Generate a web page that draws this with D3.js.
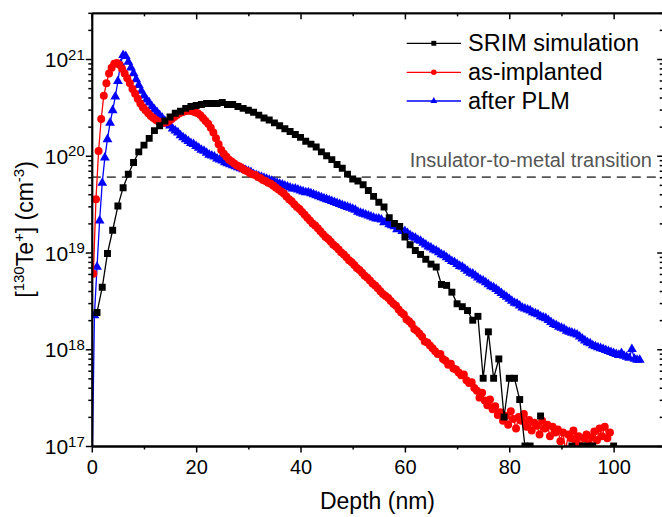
<!DOCTYPE html>
<html>
<head>
<meta charset="utf-8">
<script src="https://cdn.jsdelivr.net/npm/d3@7"></script>
<style>
  body { margin: 0; background: #fff; }
  svg { font-family: "Liberation Sans", Arial, sans-serif; }
</style>
</head>
<body>
<svg width="662" height="517"></svg>
<script>
// ---- Dados: log10 da concentracao (cm^-3) em funcao da profundidade (nm)
const seriesNames = ['SRIM simulation', 'as-implanted', 'after PLM'];
const seriesColors = ['#000000', '#ff0000', '#0000ff'];

// SRIM: 1 nm .. 100 nm, passo 1 nm (null = zero, fora da escala log)
const srimStart = 1, srimStep = 1;
const srimLog10 = [
  18.38, 18.64, 18.99, 19.23, 19.48, 19.67, 19.81, 19.93, 20.04, 20.11,
  20.18, 20.26, 20.31, 20.36, 20.40, 20.44, 20.46, 20.49, 20.51, 20.52,
  20.53, 20.54, 20.54, 20.54, 20.55, 20.53, 20.53, 20.51, 20.49, 20.47,
  20.45, 20.42, 20.39, 20.37, 20.34, 20.31, 20.28, 20.25, 20.22, 20.19,
  20.15, 20.12, 20.09, 20.04, 20.00, 19.96, 19.91, 19.87, 19.81, 19.76,
  19.74, 19.70, 19.64, 19.58, 19.52, 19.47, 19.36, 19.30, 19.27, 19.16,
  19.08, 19.02, 18.98, 18.93, 18.88, 18.85, 18.67, 18.66, 18.59, 18.47,
  18.44, 18.40, 18.30, 18.34, 17.70, 18.18, 17.70, 17.90, 17.30, 17.70,
  17.70, 17.48, 17.00, 17.00, null, 17.31, null, null, null, null,
  null, 17.00, null, 17.00, 17.00, 17.00, null, null, null, 17.00
];

// as-implanted: 0.3 nm .. 99.3 nm, passo 0.5 nm
const asImplStart = 0.3, asImplStep = 0.5;
const asImplLog10 = [
  18.78, 19.55, 20.05, 20.38, 20.62, 20.75, 20.85, 20.91, 20.95, 20.96,
  20.94, 20.90, 20.85, 20.80, 20.75, 20.69, 20.64, 20.59, 20.54, 20.50,
  20.47, 20.44, 20.41, 20.39, 20.37, 20.355, 20.345, 20.34, 20.345, 20.36,
  20.38, 20.40, 20.42, 20.44, 20.45, 20.46, 20.465, 20.465, 20.46, 20.45,
  20.44, 20.42, 20.39, 20.36, 20.33, 20.29, 20.24, 20.18, 20.12, 20.06,
  20.02, 19.99, 19.96, 19.94, 19.92, 19.90, 19.89, 19.87, 19.85, 19.84,
  19.82, 19.81, 19.80, 19.78, 19.77, 19.75, 19.74, 19.72, 19.71, 19.69,
  19.67, 19.65, 19.63, 19.61, 19.58, 19.55, 19.53, 19.50, 19.47, 19.45,
  19.42, 19.39, 19.36, 19.33, 19.30, 19.28, 19.25, 19.22, 19.19, 19.16,
  19.14, 19.11, 19.08, 19.06, 19.03, 19.00, 18.98, 18.95, 18.92, 18.90,
  18.87, 18.84, 18.82, 18.79, 18.76, 18.74, 18.71, 18.68, 18.66, 18.63,
  18.60, 18.57, 18.55, 18.53, 18.50, 18.47, 18.45, 18.41, 18.38, 18.36,
  18.31, 18.29, 18.26, 18.21, 18.19, 18.16, 18.13, 18.08, 18.07, 18.04,
  18.01, 17.98, 17.95, 17.95, 17.90, 17.88, 17.84, 17.85, 17.80, 17.79,
  17.76, 17.73, 17.74, 17.68, 17.65, 17.66, 17.60, 17.57, 17.50, 17.55,
  17.47, 17.42, 17.48, 17.38, 17.41, 17.32, 17.35, 17.26, 17.31, 17.22,
  17.36, 17.28, 17.18, 17.30, 17.26, 17.33, 17.20, 17.27, 17.16, 17.24,
  17.21, 17.12, 17.26, 17.18, 17.22, 17.10, 17.20, 17.14, 17.17, 17.05,
  17.14, 16.95, 17.12, 17.08, 17.16, 17.03, 17.10, 17.00, 17.08, 17.12,
  17.02, 17.09, 17.15, 17.06, 17.18, 17.10, 17.20, 17.08, 17.14
];

// after PLM: 0 nm .. 105 nm, passo 0.5 nm
const plmStart = 0, plmStep = 0.5;
const plmLog10 = [
  16.50, 18.35, 18.85, 19.33, 19.72, 19.98, 20.17, 20.34, 20.47, 20.61,
  20.77, 20.95, 21.04, 21.03, 20.97, 20.91, 20.85, 20.79, 20.73, 20.67,
  20.62, 20.58, 20.55, 20.51, 20.48, 20.45, 20.42, 20.39, 20.36, 20.33,
  20.31, 20.28, 20.26, 20.24, 20.21, 20.19, 20.17, 20.15, 20.13, 20.12,
  20.10, 20.08, 20.06, 20.05, 20.03, 20.01, 20.00, 19.99, 19.97, 19.96,
  19.95, 19.93, 19.92, 19.91, 19.90, 19.89, 19.88, 19.87, 19.86, 19.85,
  19.84, 19.83, 19.81, 19.80, 19.79, 19.78, 19.77, 19.76, 19.75, 19.74,
  19.73, 19.72, 19.71, 19.70, 19.69, 19.68, 19.67, 19.66, 19.66, 19.65,
  19.64, 19.63, 19.62, 19.62, 19.61, 19.60, 19.59, 19.58, 19.57, 19.56,
  19.55, 19.54, 19.53, 19.52, 19.51, 19.50, 19.49, 19.48, 19.47, 19.46,
  19.45, 19.44, 19.42, 19.41, 19.40, 19.39, 19.38, 19.37, 19.36, 19.35,
  19.35, 19.34, 19.31, 19.32, 19.29, 19.28, 19.27, 19.24, 19.25, 19.22,
  19.22, 19.20, 19.18, 19.16, 19.15, 19.13, 19.12, 19.10, 19.08, 19.06,
  19.05, 19.03, 19.02, 19.00, 18.98, 18.97, 18.95, 18.93, 18.91, 18.90,
  18.88, 18.86, 18.85, 18.83, 18.81, 18.79, 18.78, 18.76, 18.74, 18.72,
  18.71, 18.69, 18.67, 18.65, 18.64, 18.62, 18.60, 18.58, 18.56, 18.54,
  18.52, 18.50, 18.48, 18.47, 18.45, 18.43, 18.42, 18.41, 18.40, 18.38,
  18.37, 18.36, 18.34, 18.33, 18.32, 18.30, 18.28, 18.26, 18.25, 18.23,
  18.22, 18.21, 18.19, 18.18, 18.17, 18.16, 18.15, 18.13, 18.11, 18.09,
  18.07, 18.06, 18.04, 18.03, 18.02, 18.01, 18.00, 17.99, 17.98, 17.97,
  17.96, 17.95, 17.94, 17.96, 17.93, 17.92, 17.91, 18.00, 17.90, 17.89, 17.89
];

// ---- Eixos / rotulos
const xDomain = [0, 109.5];
const yDomain = [1e17, 3e21];
const xTicks = [0, 20, 40, 60, 80, 100];
const xMinorTicks = [10, 30, 50, 70, 90];
const yTicks = [1e17, 1e18, 1e19, 1e20, 1e21];
const imtLevel = 6e19;
const imtLabel = 'Insulator-to-metal transition';

const margens = { left: 91.8, right: 662 - 663.2, top: 12.85, bottom: 517 - 446 };

const svg = d3.select('svg');
const W = 662, H = 517;
const innerW = W - margens.left - margens.right;
const innerH = H - margens.top - margens.bottom;

// ---- Escalas
const mapX = d3.scaleLinear().domain(xDomain).range([0, innerW]);
const mapY = d3.scaleLog().domain(yDomain).range([innerH, 0]);

const toPoints = (start, step, arr) => arr.map((v, i) => ({ d: start + i * step, v: v === null ? null : Math.pow(10, v) }));
const series = [
  toPoints(srimStart, srimStep, srimLog10),
  toPoints(asImplStart, asImplStep, asImplLog10),
  toPoints(plmStart, plmStep, plmLog10)
];
const symbols = [d3.symbolSquare, d3.symbolCircle, d3.symbolTriangle];
const symbolSizes = [48, 50, 42];
const legendSizes = [24, 24, 20];

const plot = svg.append('g')
  .attr('transform', `translate(${margens.left}, ${margens.top})`);

svg.append('defs').append('clipPath').attr('id', 'clip')
  .append('rect').attr('x', 0).attr('y', 0).attr('width', innerW).attr('height', innerH);

// ---- Linha de transicao isolante-metal
plot.append('line')
  .attr('x1', 0).attr('x2', innerW)
  .attr('y1', mapY(imtLevel)).attr('y2', mapY(imtLevel))
  .attr('stroke', '#555').attr('stroke-width', 1.8)
  .attr('stroke-dasharray', '9,6');

plot.append('text')
  .attr('x', 652 - margens.left)
  .attr('y', mapY(imtLevel) - 10)
  .attr('text-anchor', 'end')
  .attr('font-size', 20)
  .attr('fill', '#555')
  .text(imtLabel);

// ---- Series (desenhadas de tras para frente)
const dataG = plot.append('g').attr('clip-path', 'url(#clip)');
const line = d3.line()
  .defined(p => p.v !== null)
  .x(p => mapX(p.d))
  .y(p => mapY(p.v));

[2, 1, 0].forEach(k => {
  const g = dataG.append('g');
  g.append('path')
    .datum(series[k])
    .attr('fill', 'none')
    .attr('stroke', seriesColors[k])
    .attr('stroke-width', 1.3)
    .attr('d', line);

  g.selectAll('path.mk')
    .data(series[k].filter(p => p.v !== null))
    .join('path')
    .attr('class', 'mk')
    .attr('transform', p => `translate(${mapX(p.d)}, ${mapY(p.v)})`)
    .attr('fill', seriesColors[k])
    .attr('d', d3.symbol(symbols[k], symbolSizes[k]));
});

// ---- Eixos
function styleAxis(g) {
  g.select('.domain').attr('stroke-width', 1.8);
  g.selectAll('.tick line').attr('stroke-width', 1.5);
}

// inferior (ticks para fora)
plot.append('g')
  .attr('transform', `translate(0, ${innerH})`)
  .call(d3.axisBottom(mapX).tickValues(xMinorTicks).tickSize(3.5).tickSizeOuter(0).tickFormat(''))
  .call(styleAxis);
const axisX = plot.append('g')
  .attr('transform', `translate(0, ${innerH})`)
  .call(d3.axisBottom(mapX).tickValues(xTicks).tickSize(6.5).tickPadding(7.5).tickSizeOuter(0))
  .call(styleAxis);
axisX.selectAll('text').attr('font-size', 20).attr('fill', '#000');

// superior (ticks para dentro)
plot.append('g')
  .call(d3.axisTop(mapX).tickValues(xMinorTicks).tickSize(-3.5).tickSizeOuter(0).tickFormat(''))
  .call(styleAxis);
plot.append('g')
  .call(d3.axisTop(mapX).tickValues(xTicks).tickSize(-6.5).tickSizeOuter(0).tickFormat(''))
  .call(styleAxis);

// menores do eixo log
const yMinor = [];
[17, 18, 19, 20, 21].forEach(e => {
  for (let m = 2; m <= 9; m++) {
    const v = m * Math.pow(10, e);
    if (v <= yDomain[1]) yMinor.push(v);
  }
});

// esquerdo (ticks para fora)
plot.append('g')
  .call(d3.axisLeft(mapY).tickValues(yMinor).tickSize(3.5).tickSizeOuter(0).tickFormat(''))
  .call(styleAxis);
const axisY = plot.append('g')
  .call(d3.axisLeft(mapY).tickValues(yTicks).tickSize(6).tickPadding(1).tickSizeOuter(0))
  .call(styleAxis);
axisY.selectAll('text')
  .attr('font-size', 21)
  .attr('fill', '#000')
  .attr('dy', '0.36em')
  .each(function (v) {
    const t = d3.select(this);
    t.text('10');
    t.append('tspan').attr('font-size', 15).attr('dy', -7.5).text(Math.round(Math.log10(v)));
  });

// direito (ticks para dentro)
plot.append('g')
  .attr('transform', `translate(${innerW}, 0)`)
  .call(d3.axisRight(mapY).tickValues(yMinor).tickSize(-3.5).tickSizeOuter(0).tickFormat(''))
  .call(styleAxis);
plot.append('g')
  .attr('transform', `translate(${innerW}, 0)`)
  .call(d3.axisRight(mapY).tickValues(yTicks).tickSize(-6).tickSizeOuter(0).tickFormat(''))
  .call(styleAxis);

// ---- Titulos dos eixos
svg.append('text')
  .attr('x', margens.left + innerW / 2)
  .attr('y', 509)
  .attr('text-anchor', 'middle')
  .attr('font-size', 23)
  .text('Depth (nm)');

const yTitle = svg.append('text')
  .attr('transform', `translate(33, ${margens.top + innerH / 2}) rotate(-90)`)
  .attr('text-anchor', 'middle')
  .attr('font-size', 23);
yTitle.append('tspan').text('[');
yTitle.append('tspan').attr('font-size', 15).attr('dy', -9).text('130');
yTitle.append('tspan').attr('dy', 9).text('Te');
yTitle.append('tspan').attr('font-size', 15).attr('dy', -9).text('+');
yTitle.append('tspan').attr('dy', 9).text('] (cm');
yTitle.append('tspan').attr('font-size', 15).attr('dy', -9).text('-3');
yTitle.append('tspan').attr('dy', 9).text(')');

// ---- Legenda
const legend = svg.append('g');
const legendRows = [43.3, 72.3, 101];
seriesNames.forEach((name, k) => {
  const row = legend.append('g').attr('transform', `translate(0, ${legendRows[k]})`);
  row.append('line')
    .attr('x1', 406.7).attr('x2', 461)
    .attr('stroke', seriesColors[k]).attr('stroke-width', 1.3);
  row.append('path')
    .attr('transform', 'translate(433.8, 0)')
    .attr('fill', seriesColors[k])
    .attr('d', d3.symbol(symbols[k], legendSizes[k]));
  row.append('text')
    .attr('x', 468)
    .attr('y', 8)
    .attr('font-size', 23.5)
    .text(name);
});
</script>
</body>
</html>
